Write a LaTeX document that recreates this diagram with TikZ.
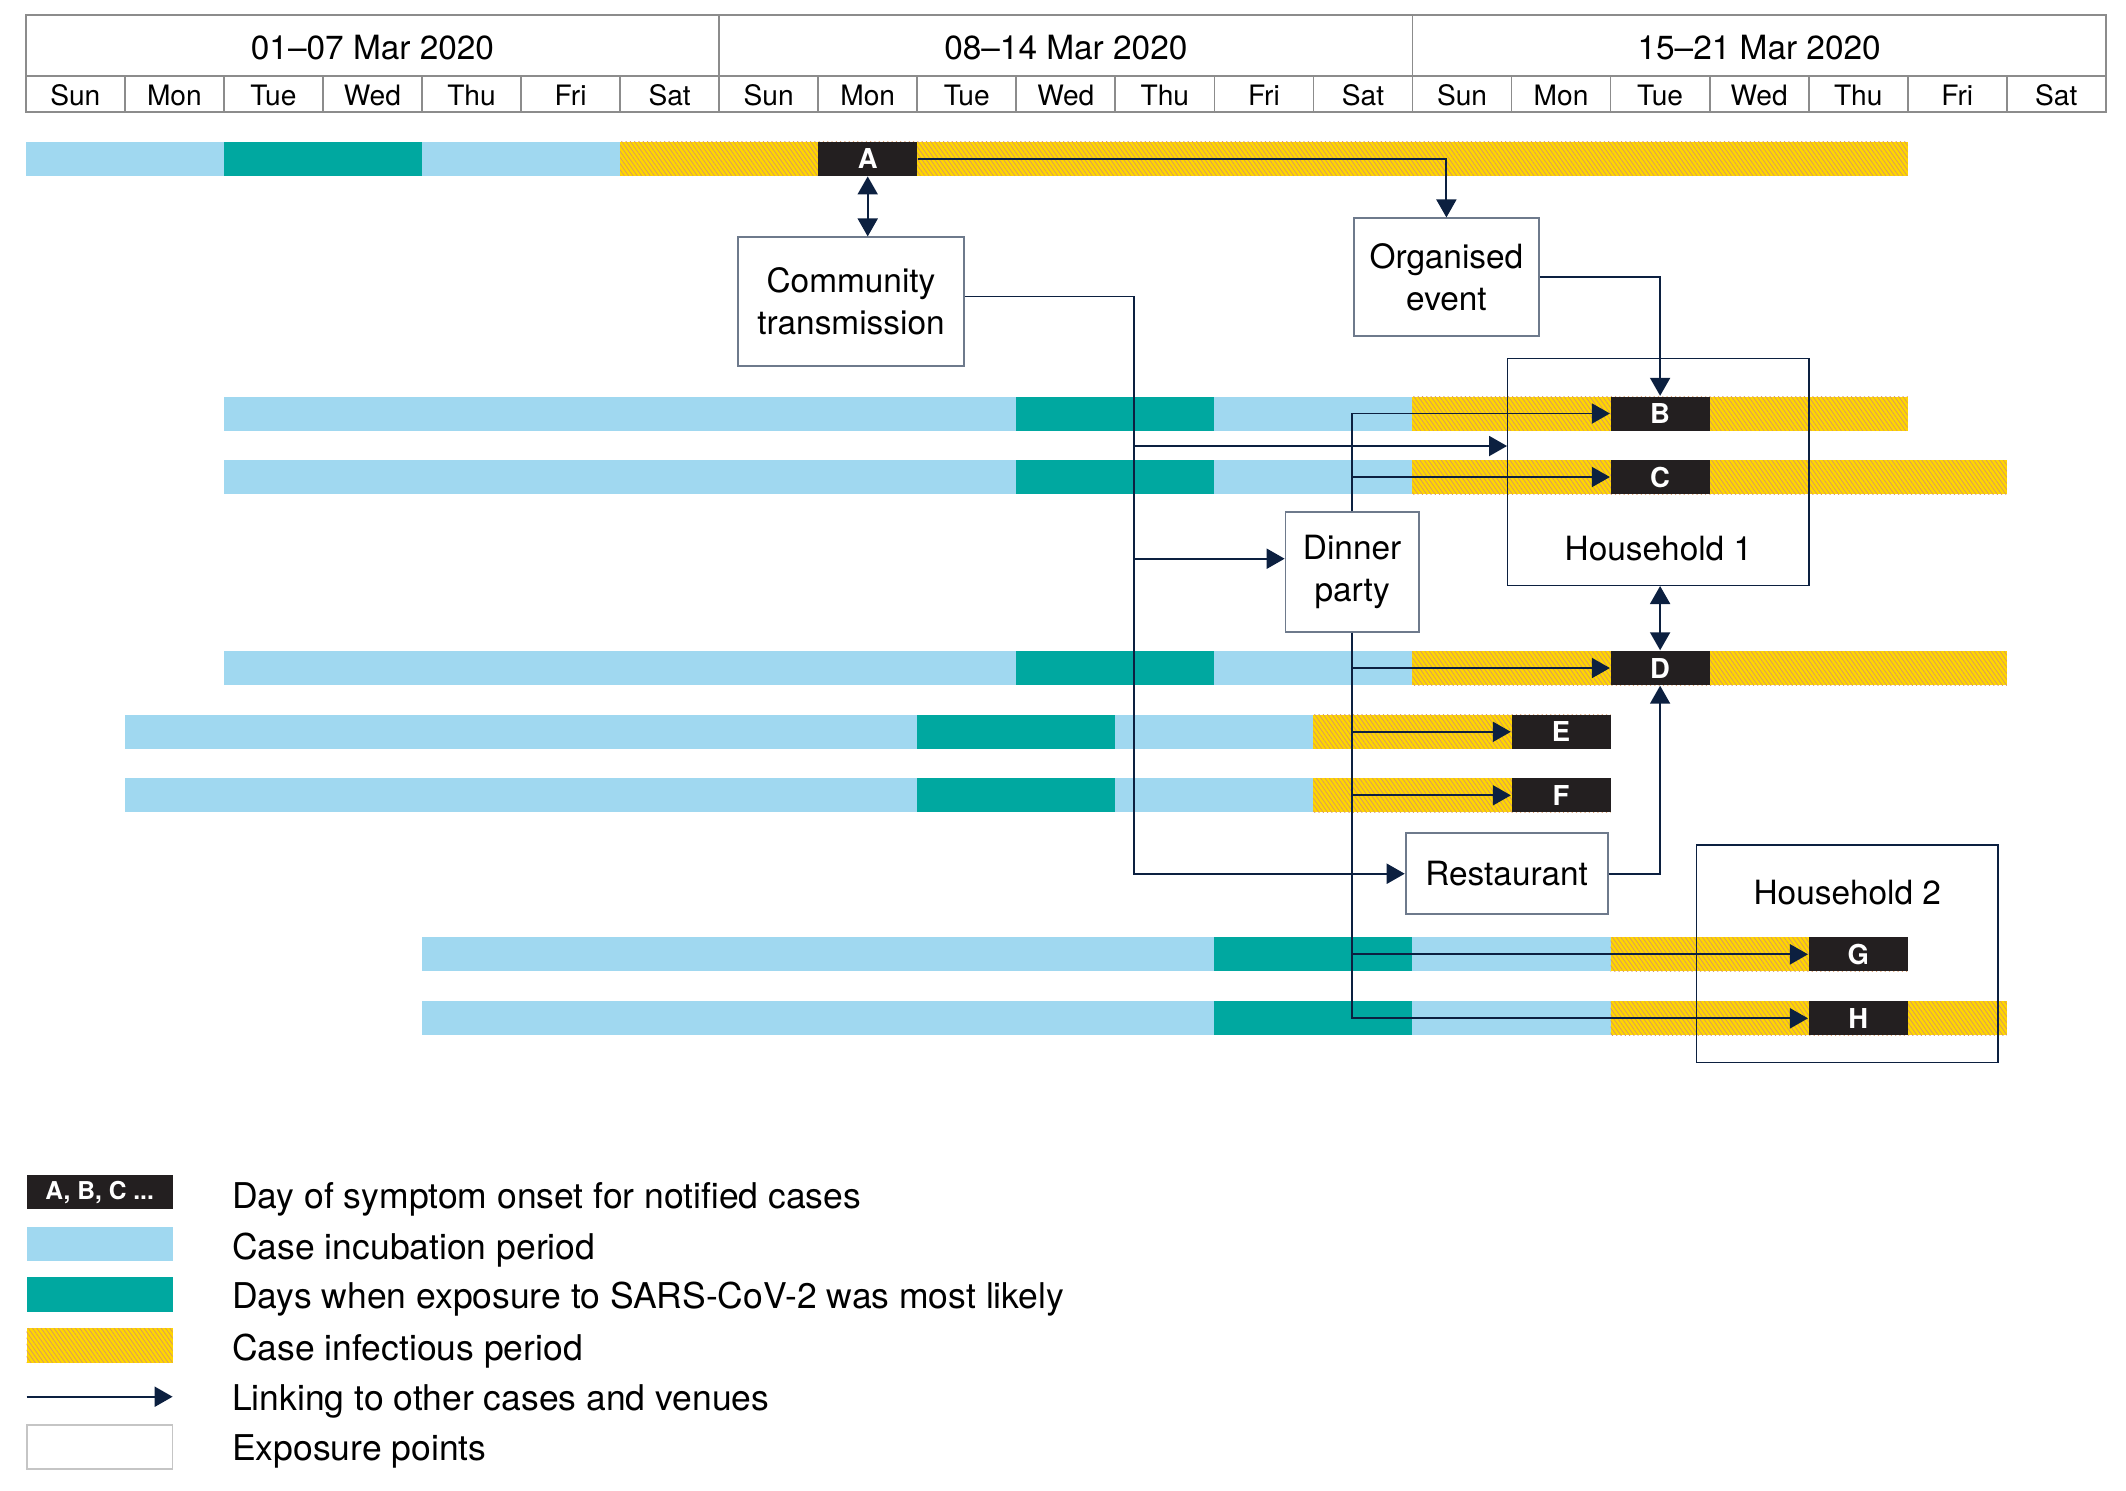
\documentclass[tikz,border=0pt]{standalone}
\usepackage{fontspec}
\setmainfont{TeX Gyre Heros}
\usetikzlibrary{arrows.meta,patterns.meta}

\definecolor{incubc}{RGB}{160,216,240}
\definecolor{expoc}{RGB}{0,168,160}
\definecolor{infectc}{RGB}{255,214,0}
\definecolor{hatchc}{RGB}{214,150,100}
\definecolor{onsetc}{RGB}{35,31,32}
\definecolor{navy}{RGB}{12,32,64}
\definecolor{boxc}{RGB}{110,122,140}
\definecolor{gridc}{RGB}{140,140,140}

\tikzset{
  >={Triangle[length=1.8mm,width=2mm]},
  link/.style={draw=navy,line width=.55pt,->},
  incub/.style={fill=incubc},
  expo/.style={fill=expoc},
  infect/.style={fill=infectc,postaction={pattern={Lines[angle=-55,distance=1pt,line width=.2pt]},pattern color=hatchc}},
  onset/.style={fill=onsetc,text=white,font=\bfseries\fontsize{7.8}{9}\selectfont,
    minimum width=.9905cm,minimum height=3.4mm,inner sep=0pt},
  expbox/.style={draw=boxc,fill=white,line width=.5pt,inner sep=0pt,align=center,
    font=\fontsize{9.5}{11.9}\selectfont},
  hhbox/.style={draw=navy,line width=.4pt,inner sep=0pt},
  gridl/.style={draw=gridc,line width=.5pt},
  weekl/.style={anchor=base,inner sep=0pt,font=\fontsize{9.5}{11}\selectfont},
  dayl/.style={anchor=base,inner sep=0pt,font=\fontsize{8}{10}\selectfont},
  keytext/.style={anchor=base west,inner sep=0pt,font=\fontsize{10.1}{12}\selectfont}
}

\begin{document}
\begin{tikzpicture}[x=.1mm,y=-.1mm]
  \useasboundingbox (0,0) rectangle (2126,1490);

  \begin{scope}[shift={(25.8,0)},x=.9905cm]
    \draw[gridl] (0,15.3) rectangle (21,112.3) (0,76) -- (21,76);
    \foreach \d in {7,14} \draw[gridl] (\d,15.3) -- (\d,76);
    \foreach \d in {1,...,20} \draw[gridl] (\d,76) -- (\d,112.3);
    \foreach \w/\wl in {0/01–07,1/08–14,2/15–21}
      \node[weekl] at (7*\w+3.5,59.3) {\wl\ Mar 2020};
    \foreach \dn [count=\i from 0] in {Sun,Mon,Tue,Wed,Thu,Fri,Sat,Sun,Mon,Tue,Wed,Thu,Fri,Sat,Sun,Mon,Tue,Wed,Thu,Fri,Sat}
      \node[dayl] at (\i+.5,105.5) {\dn};

    \foreach \yc/\s/\t/\e in {158.7/0/2/19,413.5/2/10/19,477/2/10/20,668/2/10/20,
                              731.8/1/9/16,795.3/1/9/16,954.3/4/12/19,1018.3/4/12/20}{
      \fill[incub] (\s,\yc-17) rectangle (\t+4,\yc+17);
      \fill[expo] (\t,\yc-17) rectangle (\t+2,\yc+17);
      \fill[infect] (\t+4,\yc-17) rectangle (\e,\yc+17);
    }

    \node[onset] (A) at (8.5,158.7) {A};
    \node[onset] (B) at (16.5,413.5) {B};
    \node[onset] (C) at (16.5,477) {C};
    \node[onset] (D) at (16.5,668) {D};
    \node[onset] (E) at (15.5,731.8) {E};
    \node[onset] (F) at (15.5,795.3) {F};
    \node[onset] (G) at (18.5,954.3) {G};
    \node[onset] (H) at (18.5,1018.3) {H};
  \end{scope}

  \node[hhbox,minimum width=30.13mm,minimum height=22.7mm] (hh1) at (1658.4,471.8) {};
  \node[inner sep=0pt,font=\fontsize{9.5}{11.7}\selectfont] at ([yshift=3.7mm]hh1.south) {Household 1};
  \node[hhbox,minimum width=30.14mm,minimum height=21.77mm] (hh2) at (1847.3,953.9) {};
  \node[inner sep=0pt,font=\fontsize{9.5}{11.7}\selectfont] at ([yshift=-4.8mm]hh2.north) {Household 2};

  \node[expbox,minimum width=22.6mm,minimum height=12.84mm] (comm) at (851,301.5) {Community\\transmission};
  \node[expbox,minimum width=18.53mm,minimum height=11.74mm] (org) at (1446.4,277) {Organised\\event};
  \node[expbox,minimum width=13.32mm,minimum height=12mm] (dinner) at (1352.1,572) {Dinner\\party};
  \node[expbox,minimum width=20.2mm,minimum height=8.07mm] (rest) at (1506.6,873.7) {Restaurant};

  \coordinate (cj) at (1134,0);
  \coordinate (h1in) at (hh1.west |- 0,446);
  \coordinate (dinin) at (dinner.west |- 0,558.7);

  \draw[link,<->] (A.south) -- (A.south |- comm.north);
  \draw[link] (A.east) -| (org.north);
  \draw[link] (org.east) -| (B.north);
  \draw[link] ([yshift=.5mm]comm.east) -| (cj |- rest.west) -- (rest.west);
  \draw[link] (cj |- h1in) -- (h1in);
  \draw[link] (cj |- dinin) -- (dinin);
  \draw[link] (dinner.north) |- (B.west);
  \draw[link] (dinner.north) |- (C.west);
  \foreach \c in {D,E,F,G,H} \draw[link] (dinner.south) |- (\c.west);
  \draw[link,<->] (D.north |- hh1.south) -- (D.north);
  \draw[link] (rest.east) -| (D.south);

  \node[onset,minimum width=14.59mm,minimum height=3.34mm,font=\bfseries\fontsize{7}{9}\selectfont] (keyon) at (99.65,1192) {A, B, C ...};
  \fill[incub] (26.7,1226.7) rectangle (172.6,1260.7);
  \fill[expo] (26.7,1277.3) rectangle (172.6,1312);
  \fill[infect] (26.7,1328.3) rectangle (172.6,1362.7);
  \coordinate (keyl) at (26.7,1396.7);
  \coordinate (keyr) at (172.6,1396.7);
  \draw[link] (keyl) -- (keyr);
  \draw[draw=gridc!50,line width=.5pt] (26.7,1425.3) rectangle (172.6,1469.3);

  \node[keytext] at (231.5,1208.3) {Day of symptom onset for notified cases};
  \node[keytext] at (231.5,1259.3) {Case incubation period};
  \node[keytext] at (231.5,1308.3) {Days when exposure to SARS-CoV-2 was most likely};
  \node[keytext] at (231.5,1360) {Case infectious period};
  \node[keytext] at (231.5,1410) {Linking to other cases and venues};
  \node[keytext] at (231.5,1460.7) {Exposure points};
\end{tikzpicture}
\end{document}
